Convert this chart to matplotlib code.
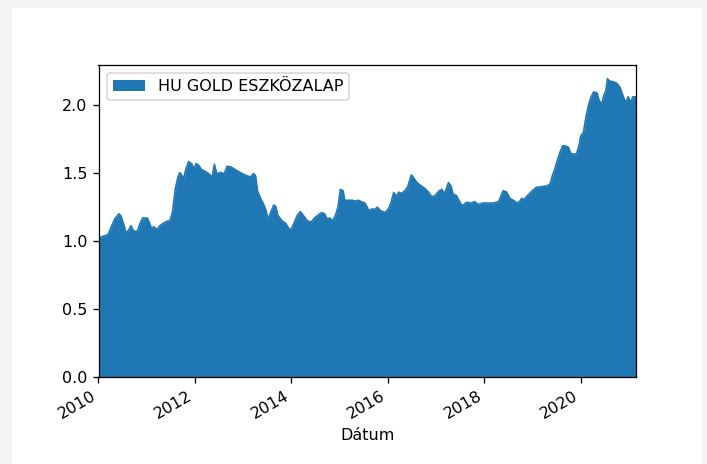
import matplotlib
matplotlib.use("Agg")
import matplotlib.pyplot as plt
import matplotlib.dates as mdates
import pandas as pd

series_name = "HU GOLD ESZKÖZALAP"
x_label = "Dátum"

dates = [
    "2010-01-01", "2010-01-20", "2010-02-20", "2010-03-15", "2010-04-10", "2010-05-05",
    "2010-06-05", "2010-06-20", "2010-07-15", "2010-08-01", "2010-08-15", "2010-09-05",
    "2010-09-20", "2010-10-10", "2010-10-25", "2010-11-15", "2010-12-01", "2011-01-05",
    "2011-01-20", "2011-02-05", "2011-02-25", "2011-03-20", "2011-04-10", "2011-05-05",
    "2011-06-01", "2011-06-25", "2011-07-15", "2011-08-05", "2011-08-25", "2011-09-08",
    "2011-09-20", "2011-10-08", "2011-10-25", "2011-11-15", "2011-12-10", "2011-12-25",
    "2012-01-10", "2012-02-01", "2012-02-20", "2012-03-15", "2012-04-15", "2012-05-10",
    "2012-05-28", "2012-06-15", "2012-07-15", "2012-08-10", "2012-09-01", "2012-10-01",
    "2012-11-10", "2012-12-10", "2013-01-05", "2013-02-01", "2013-02-25", "2013-03-20",
    "2013-04-05", "2013-04-20", "2013-05-10", "2013-06-05", "2013-06-25", "2013-07-05",
    "2013-07-20", "2013-08-20", "2013-09-05", "2013-09-20", "2013-10-22", "2013-11-20",
    "2013-12-10", "2013-12-28", "2014-01-20", "2014-02-15", "2014-03-10", "2014-04-01",
    "2014-05-01", "2014-06-01", "2014-06-25", "2014-07-20", "2014-08-20", "2014-09-10",
    "2014-09-28", "2014-10-20", "2014-11-10", "2014-12-01", "2014-12-20", "2015-01-07",
    "2015-01-28", "2015-02-10", "2015-03-10", "2015-04-05", "2015-05-01", "2015-05-25",
    "2015-06-15", "2015-07-12", "2015-08-01", "2015-08-10", "2015-09-01", "2015-09-27",
    "2015-10-15", "2015-11-05", "2015-12-12", "2016-01-05", "2016-01-25", "2016-02-15",
    "2016-03-10", "2016-03-25", "2016-04-15", "2016-05-10", "2016-06-01", "2016-06-28",
    "2016-07-15", "2016-08-10", "2016-09-05", "2016-10-05", "2016-11-05", "2016-12-01",
    "2016-12-25", "2017-01-25", "2017-02-15", "2017-03-05", "2017-04-05", "2017-04-25",
    "2017-05-10", "2017-06-05", "2017-07-01", "2017-07-20", "2017-08-20", "2017-09-25",
    "2017-10-20", "2017-11-15", "2017-12-25", "2018-02-05", "2018-03-10", "2018-04-20",
    "2018-05-10", "2018-05-25", "2018-06-20", "2018-07-15", "2018-08-10", "2018-09-05",
    "2018-09-25", "2018-10-12", "2018-10-30", "2018-11-20", "2018-12-15", "2019-01-05",
    "2019-02-01", "2019-03-10", "2019-04-20", "2019-05-15", "2019-06-01", "2019-06-20",
    "2019-07-08", "2019-07-28", "2019-08-18", "2019-09-05", "2019-10-01", "2019-10-18",
    "2019-11-06", "2019-12-01", "2019-12-22", "2020-01-01", "2020-01-22", "2020-02-10",
    "2020-02-28", "2020-03-18", "2020-04-08", "2020-05-04", "2020-05-22", "2020-06-10",
    "2020-06-22", "2020-07-12", "2020-07-22", "2020-08-10", "2020-09-05", "2020-09-30",
    "2020-10-26", "2020-11-20", "2020-12-08", "2020-12-28", "2021-01-15", "2021-01-30",
    "2021-02-24",
]

values = [
    1.02, 1.03, 1.04, 1.05, 1.11, 1.165,
    1.20, 1.185, 1.11, 1.055, 1.08, 1.113,
    1.08, 1.07, 1.08, 1.138, 1.17, 1.17,
    1.14, 1.095, 1.105, 1.085, 1.113, 1.13,
    1.145, 1.15, 1.21, 1.38, 1.467, 1.504,
    1.49, 1.46, 1.53, 1.585, 1.565, 1.53,
    1.57, 1.555, 1.525, 1.515, 1.495, 1.47,
    1.565, 1.495, 1.505, 1.495, 1.55, 1.545,
    1.52, 1.505, 1.49, 1.48, 1.47, 1.497,
    1.48, 1.37, 1.32, 1.27, 1.22, 1.165,
    1.19, 1.265, 1.255, 1.19, 1.15, 1.13,
    1.096, 1.082, 1.13, 1.19, 1.216, 1.19,
    1.15, 1.14, 1.17, 1.19, 1.21, 1.20,
    1.165, 1.17, 1.15, 1.19, 1.25, 1.38,
    1.37, 1.30, 1.30, 1.30, 1.295, 1.30,
    1.29, 1.28, 1.245, 1.225, 1.235, 1.235,
    1.25, 1.225, 1.21, 1.235, 1.28, 1.357,
    1.33, 1.36, 1.35, 1.37, 1.40, 1.487,
    1.465, 1.43, 1.41, 1.39, 1.36, 1.325,
    1.335, 1.37, 1.38, 1.345, 1.43, 1.405,
    1.345, 1.335, 1.285, 1.26, 1.285, 1.28,
    1.29, 1.27, 1.28, 1.28, 1.28, 1.29,
    1.335, 1.37, 1.36, 1.314, 1.30, 1.28,
    1.29, 1.314, 1.305, 1.33, 1.355, 1.375,
    1.395, 1.40, 1.405, 1.42, 1.48, 1.53,
    1.59, 1.65, 1.70, 1.70, 1.69, 1.645,
    1.64, 1.64, 1.71, 1.77, 1.797, 1.907,
    1.99, 2.053, 2.095, 2.09, 2.03, 2.01,
    2.06, 2.11, 2.193, 2.175, 2.17, 2.16,
    2.13, 2.06, 2.02, 2.06, 2.015, 2.06,
    2.06,
]

dt = pd.to_datetime(dates)
color = "#1f77b4"

fig = plt.figure(figsize=(707 / 115.2, 464 / 115.2), dpi=115.2, facecolor="#f4f4f4")
# white output panel behind the axes
panel = plt.Rectangle((12 / 707, 0), (702 - 12) / 707, 1 - 8 / 464,
                      transform=fig.transFigure, facecolor="white",
                      edgecolor="none", zorder=-10)
fig.add_artist(panel)

ax = fig.add_axes([98.5 / 707, 1 - 377.3 / 464, (636 - 98.5) / 707, (377.3 - 64.5) / 464])
ax.set_zorder(5)
ax.fill_between(dt, 0, values, color=color, linewidth=0, label=series_name)
ax.plot(dt, values, color=color, linewidth=1.0)

ax.set_xlim(dt[0], dt[-1])
ax.set_ylim(0, 2.297)
ax.set_yticks([0.0, 0.5, 1.0, 1.5, 2.0])
ax.xaxis.set_major_locator(mdates.YearLocator(2))
ax.xaxis.set_major_formatter(mdates.DateFormatter("%Y"))
for lbl in ax.get_xticklabels():
    lbl.set_rotation(30)
    lbl.set_ha("right")
ax.set_xlabel(x_label)
ax.legend(loc="upper left")

fig.savefig("out.png", dpi=115.2, facecolor=fig.get_facecolor())
